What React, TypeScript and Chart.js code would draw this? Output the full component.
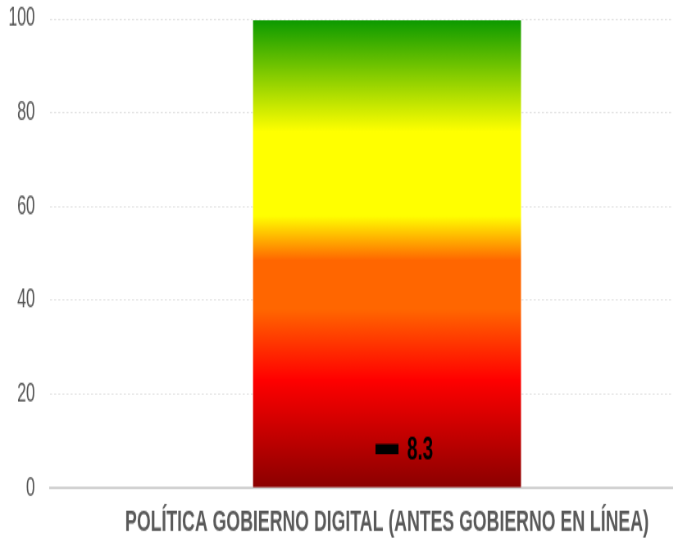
import React, { useEffect, useRef } from "react";
import { Chart, registerables } from "chart.js";

Chart.register(...registerables);

const categories = ["POLÍTICA GOBIERNO DIGITAL (ANTES GOBIERNO EN LÍNEA)"];
const scaleValues = [100];
const scoreValues = [8.3];
const yTicks = { min: 0, max: 100, step: 20 };

const gradientStops: [number, string][] = [
  [0, "#8a0000"],
  [0.23, "#ff0000"],
  [0.38, "#ff6600"],
  [0.485, "#ff6600"],
  [0.58, "#ffff00"],
  [0.76, "#ffff00"],
  [1, "#0a9900"],
];

const FONT = '"Liberation Sans", Arial, sans-serif';

// canvas is drawn with Arial-metric font, then displayed squeezed horizontally
// and stretched vertically, giving the tall narrow look of the reference
const HX = 0.82; // horizontal display factor
const DISPLAY_W = 728;
const DISPLAY_H = 539;
const CANVAS_W = Math.round(DISPLAY_W / HX);
const CANVAS_H = 400;
const VY = DISPLAY_H / CANVAS_H;

const valueLabelPlugin = {
  id: "valueLabel",
  afterDatasetsDraw(chart: any) {
    const meta = chart.getDatasetMeta(1);
    const ctx = chart.ctx;
    ctx.save();
    ctx.fillStyle = "#000";
    ctx.font = `bold 23px ${FONT}`;
    ctx.textAlign = "left";
    ctx.textBaseline = "middle";
    meta.data.forEach((pt: any, i: number) => {
      ctx.fillText(String(scoreValues[i]), pt.x + 20 / HX, pt.y + 1);
    });
    ctx.restore();
  },
};

export default function App() {
  const ref = useRef<HTMLCanvasElement | null>(null);
  useEffect(() => {
    const canvas = ref.current;
    if (!canvas) return;
    const chart = new Chart(canvas, {
      type: "bar",
      data: {
        labels: categories,
        datasets: [
          {
            type: "bar",
            data: scaleValues,
            backgroundColor: (c: any) => {
              const ch = c.chart;
              if (!ch.chartArea) return "#ff0000";
              const y = ch.scales.y;
              const g = ch.ctx.createLinearGradient(0, y.getPixelForValue(0), 0, y.getPixelForValue(100));
              gradientStops.forEach(([o, col]) => g.addColorStop(o, col));
              return g;
            },
            borderColor: "rgba(255,255,255,0.35)",
            borderWidth: 1,
            categoryPercentage: 1,
            barPercentage: 0.4,
            order: 2,
          },
          {
            type: "line",
            data: scoreValues,
            showLine: false,
            pointStyle: "line",
            pointRadius: 11.5 / HX,
            pointHoverRadius: 11.5 / HX,
            pointBorderWidth: 7.5,
            pointBorderColor: "#000",
            pointBackgroundColor: "#000",
            order: 1,
          },
        ],
      } as any,
      options: {
        responsive: false,
        maintainAspectRatio: false,
        devicePixelRatio: 1,
        animation: false,
        layout: { autoPadding: false, padding: { top: 19 / VY, right: 4 / HX, bottom: 0, left: 0 } },
        plugins: { legend: { display: false }, tooltip: { enabled: false } },
        scales: {
          x: {
            afterFit: (s: any) => {
              s.height = CANVAS_H - 488 / VY;
              s.paddingLeft = 0;
              s.paddingRight = 0;
            },
            grid: { display: false, drawTicks: false },
            border: { display: true, color: "#d2d2d2", width: 2 },
            ticks: {
              color: "#595959",
              font: { family: FONT, size: 21.6, weight: "bold" },
              padding: 13,
              maxRotation: 0,
              autoSkip: false,
            },
          },
          y: {
            min: yTicks.min,
            max: yTicks.max,
            afterFit: (s: any) => {
              s.width = 50 / HX;
              s.paddingTop = 0;
              s.paddingBottom = 0;
            },
            border: { display: false, dash: [2.5, 2.5] },
            grid: { color: "#e3e3e3", lineWidth: 1, drawTicks: false },
            ticks: {
              stepSize: yTicks.step,
              padding: 15 / HX,
              color: "#555555",
              font: { family: FONT, size: 19.5 },
            },
          },
        },
      } as any,
      plugins: [valueLabelPlugin],
    });
    return () => chart.destroy();
  }, []);

  return (
    <div
      style={{
        position: "fixed",
        top: 0,
        left: 0,
        width: 673,
        height: 539,
        overflow: "hidden",
        background: "#fff",
      }}
    >
      <canvas
        ref={ref}
        width={CANVAS_W}
        height={CANVAS_H}
        style={{ display: "block", width: `${DISPLAY_W}px`, height: `${DISPLAY_H}px` }}
      />
    </div>
  );
}
